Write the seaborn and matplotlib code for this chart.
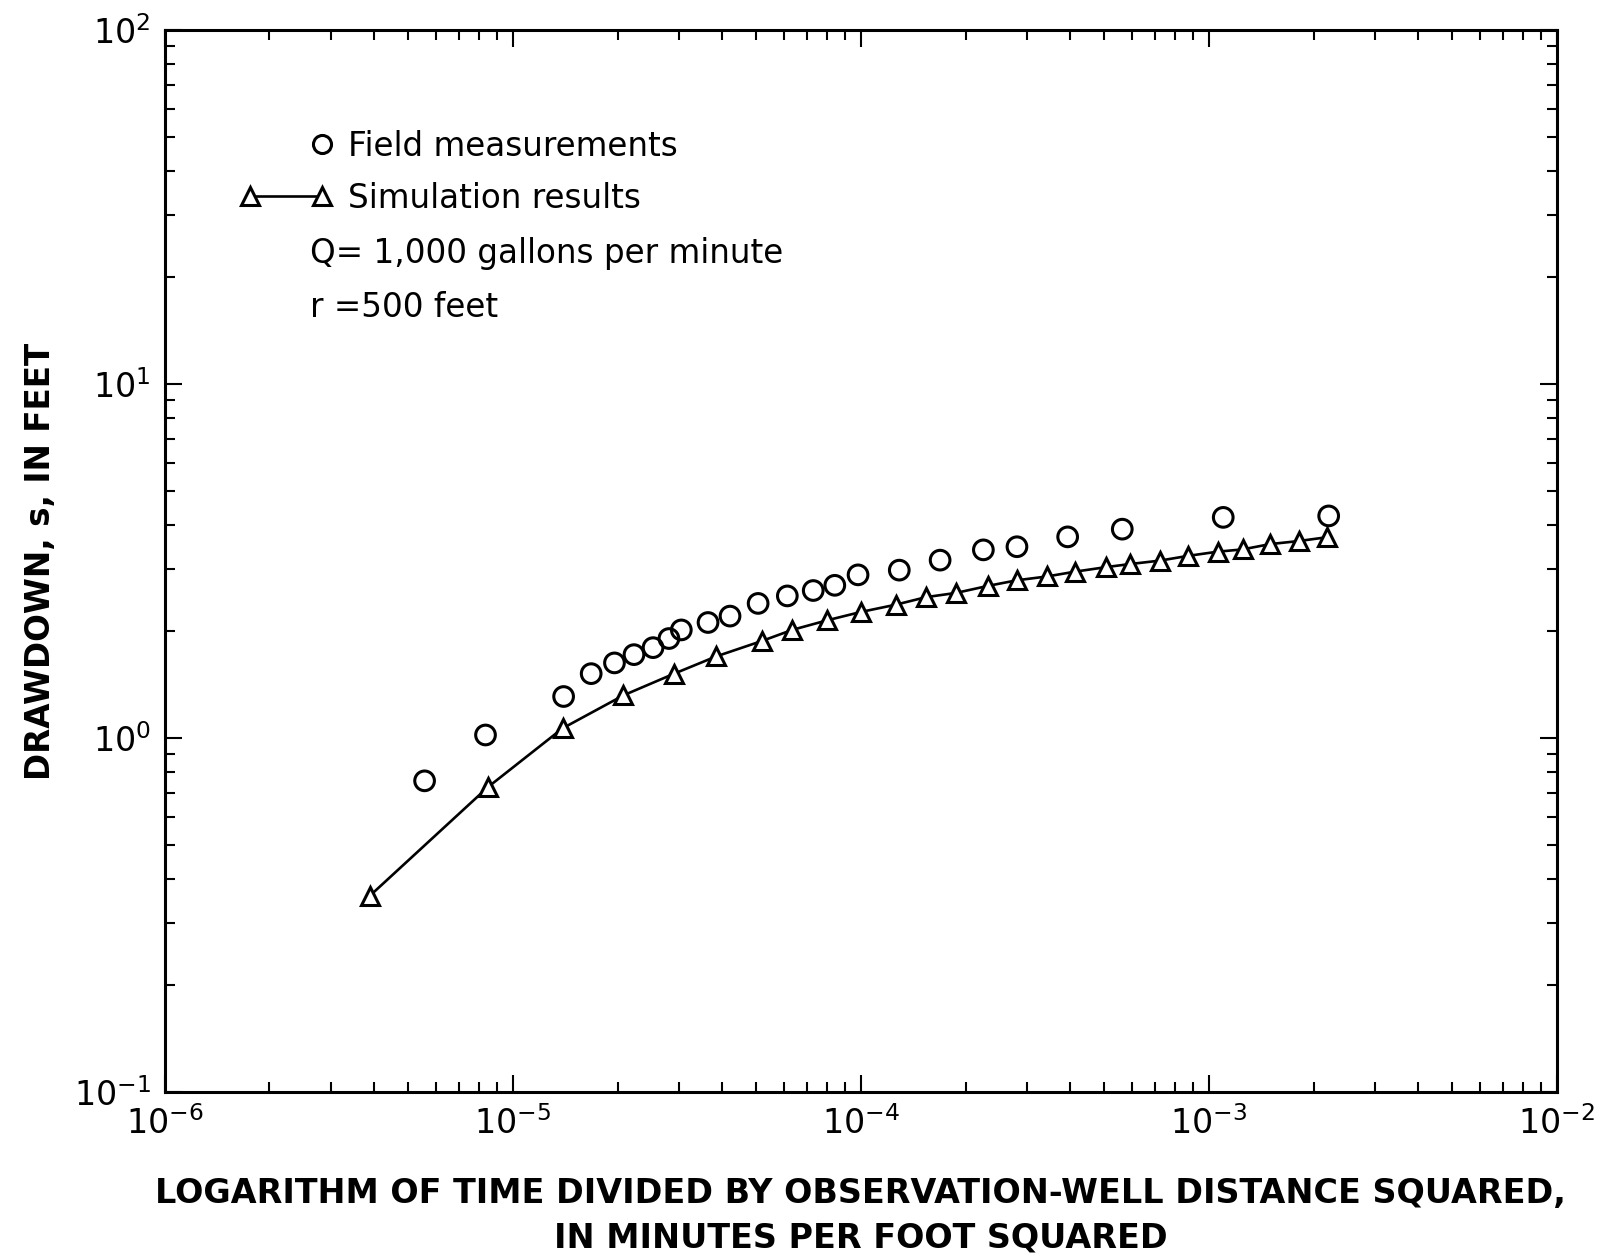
import numpy as np
import pandas as pd
import matplotlib
matplotlib.use("Agg")
import matplotlib.pyplot as plt
import seaborn as sns
from matplotlib.lines import Line2D
from matplotlib.legend_handler import HandlerLine2D
from matplotlib.ticker import LogLocator, NullFormatter


# Field measurements (open circles)
field_t = [5.58e-6, 8.35e-6, 1.40e-5, 1.68e-5, 1.96e-5, 2.23e-5, 2.53e-5, 2.81e-5,
           3.05e-5, 3.64e-5, 4.21e-5, 5.07e-5, 6.15e-5, 7.30e-5, 8.42e-5, 9.82e-5,
           1.29e-4, 1.69e-4, 2.25e-4, 2.81e-4, 3.93e-4, 5.64e-4, 1.10e-3, 2.21e-3]
field_s = [0.757, 1.02, 1.31, 1.52, 1.63, 1.72, 1.80, 1.91,
           2.02, 2.12, 2.21, 2.40, 2.52, 2.61, 2.70, 2.89,
           2.98, 3.18, 3.40, 3.47, 3.70, 3.89, 4.20, 4.24]

# Simulation results (triangles joined by a line)
sim_t = [3.88e-6, 8.49e-6, 1.39e-5, 2.08e-5, 2.91e-5, 3.84e-5, 5.20e-5, 6.35e-5,
         8.00e-5, 1.00e-4, 1.26e-4, 1.54e-4, 1.88e-4, 2.32e-4, 2.81e-4, 3.43e-4,
         4.12e-4, 5.08e-4, 5.93e-4, 7.23e-4, 8.72e-4, 1.06e-3, 1.25e-3, 1.50e-3,
         1.81e-3, 2.18e-3]
sim_s = [0.358, 0.727, 1.065, 1.32, 1.52, 1.70, 1.88, 2.02,
         2.15, 2.27, 2.38, 2.50, 2.57, 2.69, 2.79, 2.86,
         2.95, 3.04, 3.10, 3.17, 3.27, 3.36, 3.41, 3.53,
         3.60, 3.69]

notes = ["Q= 1,000 gallons per minute", "r =500 feet"]

df_field = pd.DataFrame({"t": field_t, "s": field_s})
df_sim = pd.DataFrame({"t": sim_t, "s": sim_s})


class RightMarkerHandler(HandlerLine2D):
    # a single marker at the right end of the handle, no line
    def create_artists(self, legend, orig_handle, xdescent, ydescent, width, height, fontsize, trans):
        arts = super().create_artists(legend, orig_handle, xdescent, ydescent, width, height, fontsize, trans)
        arts[0].set_markevery([len(arts[0].get_xdata()) - 1])
        return arts


sns.set_theme(style="ticks")
plt.rcParams['font.family'] = ['DejaVu Sans']
plt.rcParams['mathtext.fontset'] = 'dejavusans'
for key in ["text.color", "axes.labelcolor", "xtick.color", "ytick.color", "axes.edgecolor"]:
    plt.rcParams[key] = "black"

fig = plt.figure(figsize=(16.15, 12.59), dpi=100)
ax = fig.add_axes([0.102, 0.1326, 0.862, 0.8436])

sns.lineplot(data=df_sim, x="t", y="s", ax=ax, color="black", linewidth=1.9,
             marker="^", markersize=13, markerfacecolor="white",
             markeredgecolor="black", markeredgewidth=2.2)
sns.scatterplot(data=df_field, x="t", y="s", ax=ax, marker="o", s=200,
                facecolor="none", edgecolor="black", linewidth=2.2, zorder=3)

ax.set_xscale("log")
ax.set_yscale("log")
ax.set_xlim(1e-6, 1e-2)
ax.set_ylim(1e-1, 1e2)

ax.xaxis.set_major_locator(LogLocator(base=10, numticks=10))
ax.yaxis.set_major_locator(LogLocator(base=10, numticks=10))
ax.xaxis.set_minor_locator(LogLocator(base=10, subs=np.arange(2, 10), numticks=20))
ax.yaxis.set_minor_locator(LogLocator(base=10, subs=np.arange(2, 10), numticks=20))
ax.xaxis.set_minor_formatter(NullFormatter())
ax.yaxis.set_minor_formatter(NullFormatter())

ax.tick_params(which="both", direction="in", top=True, right=True, width=1.5, colors="black")
ax.tick_params(which="major", length=12, labelsize=24, pad=10)
ax.tick_params(which="minor", length=7)
for sp in ax.spines.values():
    sp.set_linewidth(2.2)

ax.set_xlabel("LOGARITHM OF TIME DIVIDED BY OBSERVATION-WELL DISTANCE SQUARED,\nIN MINUTES PER FOOT SQUARED",
              fontsize=24, fontweight="semibold", labelpad=26, linespacing=1.45)
ax.set_ylabel("DRAWDOWN, s, IN FEET", fontsize=23.5, fontweight="semibold", labelpad=12)

h_field = Line2D([], [], linestyle="none", marker="o", markersize=13,
                 markerfacecolor="none", markeredgecolor="black", markeredgewidth=2.2)
h_sim = Line2D([], [], color="black", linewidth=1.9, marker="^", markersize=13,
               markerfacecolor="white", markeredgecolor="black", markeredgewidth=2.2)
ax.legend([h_field, h_sim], ["Field measurements", "Simulation results"],
          handler_map={h_field: RightMarkerHandler()},
          loc="upper left", bbox_to_anchor=(0.054, 0.906), frameon=False,
          fontsize=23.5, numpoints=2, handlelength=2.8, handletextpad=0.5,
          borderpad=0, borderaxespad=0, labelspacing=0.58)

for i, note in enumerate(notes):
    ax.text(0.104, 0.790 - i * 0.0515, note, transform=ax.transAxes,
            fontsize=23.5, va="center", ha="left")

fig.savefig("out.png", dpi=100)
